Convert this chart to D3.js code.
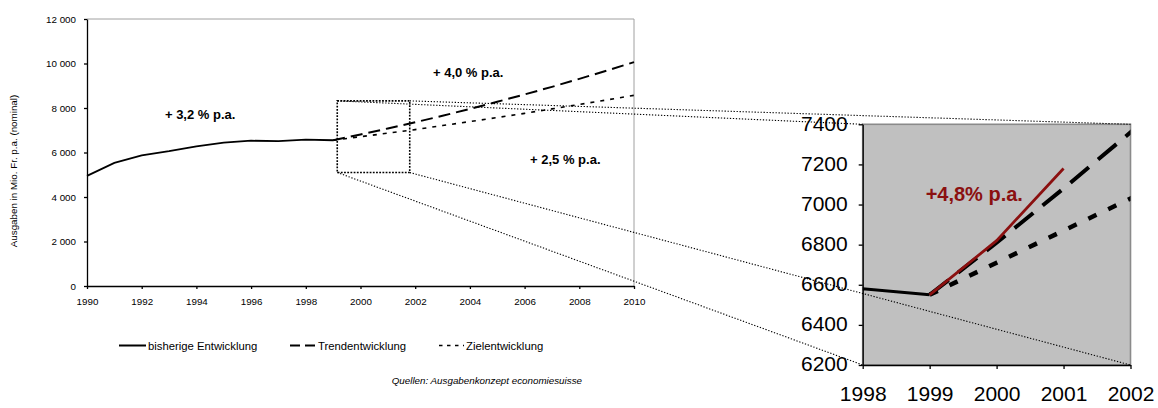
<!DOCTYPE html>
<html><head><meta charset="utf-8">
<script src="https://cdn.jsdelivr.net/npm/d3@7/dist/d3.min.js"></script>
<style>body{margin:0;background:#fff}svg{display:block;font-family:Arial,"Liberation Sans",sans-serif}</style>
</head><body>
<svg id="c" width="1158" height="408"></svg>
<script>
// ---- data ----
const histYears  = [1990,1991,1992,1993,1994,1995,1996,1997,1998,1999];
const histValues = [4950,5530,5870,6060,6280,6440,6530,6510,6580,6550];
const projYears  = [1999,2000,2001,2002,2003,2004,2005,2006,2007,2008,2009,2010];
const trendValues  = [6550,6810,7080,7360,7650,7960,8280,8610,8950,9310,9680,10060];
const targetValues = [6550,6710,6870,7030,7210,7390,7570,7760,7960,8160,8360,8570];
const redYears  = [1999,2000,2001];
const redValues = [6550,6820,7180];
const mainXTicks = [1990,1992,1994,1996,1998,2000,2002,2004,2006,2008,2010];
const mainYTicks = [0,2000,4000,6000,8000,10000,12000];
const insetXTicks = [1998,1999,2000,2001,2002];
const insetYTicks = [6200,6400,6600,6800,7000,7200,7400];
const zoomBox = {x0:1999.15, x1:2001.8, y0:5100, y1:8320};
const legendItems = ["bisherige Entwicklung","Trendentwicklung","Zielentwicklung"];
const growthLabels = [
  {text:"+ 3,2 % p.a.", x:1992.85, y:7500},
  {text:"+ 4,0 % p.a.", x:2002.65, y:9400},
  {text:"+ 2,5 % p.a.", x:2006.2, y:5500}
];

const svg = d3.select("#c");
const fmt = d => d===0 ? "0" : d3.format(",")(d).replace(/,/g," ");

// ---- main chart ----
const x = d3.scaleLinear().domain([1990,2010]).range([87,634]);
const y = d3.scaleLinear().domain([0,12000]).range([286,19]);
const hist = histYears.map((t,i)=>[t,histValues[i]]);
const trend = projYears.map((t,i)=>[t,trendValues[i]]);
const target = projYears.map((t,i)=>[t,targetValues[i]]);
const red = redYears.map((t,i)=>[t,redValues[i]]);

svg.append("line").attr("x1",x(1990)).attr("x2",x(2010)).attr("y1",y(12000)).attr("y2",y(12000)).attr("stroke","#a0a0a0");
svg.append("line").attr("x1",x(2010)).attr("x2",x(2010)).attr("y1",y(12000)).attr("y2",y(0)).attr("stroke","#a0a0a0");

const gx = svg.append("g").attr("transform",`translate(0,${y(0)})`)
  .call(d3.axisBottom(x).tickValues(mainXTicks).tickFormat(d3.format("d")).tickSize(3).tickSizeOuter(0));
const gy = svg.append("g").attr("transform",`translate(${x(1990)},0)`)
  .call(d3.axisLeft(y).tickValues(mainYTicks).tickFormat(fmt).tickSize(3).tickSizeOuter(0));
[gx,gy].forEach(g=>{g.selectAll("path,line").attr("stroke","#000").attr("stroke-width",1.3);
  g.selectAll("text").attr("font-family","Arial,'Liberation Sans',sans-serif").attr("font-size",9.8).attr("fill","#000");});
gx.selectAll("text").attr("dy","1.35em");
gy.selectAll("text").attr("dx","-5px");

svg.append("text").attr("transform","translate(17,171) rotate(-90)").attr("text-anchor","middle")
  .attr("font-size",9.8).text("Ausgaben in Mio. Fr. p.a. (nominal)");

const lineM = d3.line().x(d=>x(d[0])).y(d=>y(d[1]));

// ---- inset chart ----
const ix = d3.scaleLinear().domain([1998,2002]).range([862.7,1130.5]);
const iy = d3.scaleLinear().domain([6200,7400]).range([365,124.3]);

svg.append("rect").attr("x",ix(1998)).attr("y",iy(7400)).attr("width",ix(2002)-ix(1998)).attr("height",iy(6200)-iy(7400))
  .attr("fill","#c0c0c0").attr("stroke","#8a8a8a").attr("stroke-width",1.6);

// connector dotted lines
const bx0=x(zoomBox.x0), bx1=x(zoomBox.x1), by0=y(zoomBox.y0), by1=y(zoomBox.y1);
const conns = [
  [bx0,by1, ix(1998),iy(7400)],
  [bx1,by1, ix(2002),iy(7400)],
  [bx0,by0, ix(1998),iy(6200)],
  [bx1,by0, ix(2002),iy(6200)]
];
svg.selectAll(".conn").data(conns).join("line").attr("class","conn")
  .attr("x1",d=>d[0]).attr("y1",d=>d[1]).attr("x2",d=>d[2]).attr("y2",d=>d[3])
  .attr("stroke","#000").attr("stroke-width",1.1).attr("stroke-dasharray","1.3,1.7");
svg.append("rect").attr("x",bx0).attr("y",by1).attr("width",bx1-bx0).attr("height",by0-by1)
  .attr("fill","none").attr("stroke","#000").attr("stroke-width",1.6).attr("stroke-dasharray","1.8,1.4");

// main lines
svg.append("path").attr("d",lineM(hist)).attr("fill","none").attr("stroke","#000").attr("stroke-width",1.8);
svg.append("path").attr("d",lineM(trend)).attr("fill","none").attr("stroke","#000").attr("stroke-width",2).attr("stroke-dasharray","12,6");
svg.append("path").attr("d",lineM(target)).attr("fill","none").attr("stroke","#000").attr("stroke-width",1.6).attr("stroke-dasharray","4,6");

svg.selectAll(".gl").data(growthLabels).join("text").attr("class","gl")
  .attr("x",d=>x(d.x)).attr("y",d=>y(d.y)).attr("font-size",13).attr("font-weight","bold").text(d=>d.text);

// inset axes
const igx = svg.append("g").attr("transform",`translate(0,${iy(6200)})`)
  .call(d3.axisBottom(ix).tickValues(insetXTicks).tickFormat(d3.format("d")).tickSize(4).tickSizeOuter(0));
const igy = svg.append("g").attr("transform",`translate(${ix(1998)},0)`)
  .call(d3.axisLeft(iy).tickValues(insetYTicks).tickFormat(d3.format("d")).tickSize(4).tickSizeOuter(0));
[igx,igy].forEach(g=>{g.selectAll("path,line").attr("stroke","#000").attr("stroke-width",1.3);
  g.selectAll("text").attr("font-family","Arial,'Liberation Sans',sans-serif").attr("font-size",21).attr("fill","#000");});
igx.selectAll("text").attr("dy","1.4em");
igy.selectAll("text").attr("dx","-8px").attr("dy","0.28em");

const clip = svg.append("clipPath").attr("id","ic").append("rect")
  .attr("x",ix(1998)).attr("y",iy(7400)).attr("width",ix(2002)-ix(1998)).attr("height",iy(6200)-iy(7400));
const lineI = d3.line().x(d=>ix(d[0])).y(d=>iy(d[1]));
const ig = svg.append("g").attr("clip-path","url(#ic)");
ig.append("path").attr("d",lineI(target)).attr("fill","none").attr("stroke","#000").attr("stroke-width",4.5).attr("stroke-dasharray","9,13");
ig.append("path").attr("d",lineI(trend)).attr("fill","none").attr("stroke","#000").attr("stroke-width",4).attr("stroke-dasharray","24,12");
ig.append("path").attr("d",lineI(hist)).attr("fill","none").attr("stroke","#000").attr("stroke-width",3);
ig.append("path").attr("d",lineI(red)).attr("fill","none").attr("stroke","#8b1010").attr("stroke-width",2.8);
svg.append("text").attr("x",ix(1999)-4).attr("y",iy(7020)).attr("font-size",20).attr("font-weight","bold")
  .attr("fill","#8b1010").text("+4,8% p.a.");

// ---- legend ----
const lg = svg.append("g");
const legX = [119,290,439], legW=[27,26,25];
const dashes = [null,"10,5","3.5,4.5"];
legendItems.forEach((t,i)=>{
  lg.append("line").attr("x1",legX[i]).attr("x2",legX[i]+legW[i]).attr("y1",345.5).attr("y2",345.5)
    .attr("stroke","#000").attr("stroke-width",i===2?1.6:2).attr("stroke-dasharray",dashes[i]);
  lg.append("text").attr("x",legX[i]+legW[i]+2).attr("y",349.5).attr("font-size",11.3).text(t);
});
svg.append("text").attr("x",582).attr("y",383.5).attr("text-anchor","end").attr("font-size",9.8)
  .attr("font-style","italic").text("Quellen: Ausgabenkonzept economiesuisse");
</script>
</body></html>
